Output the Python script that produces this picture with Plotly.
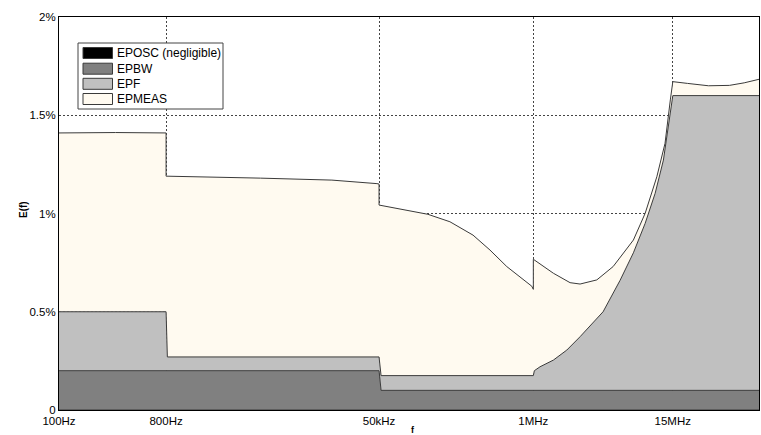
import plotly.graph_objects as go

# ---- data (values in %) ----
tick_freqs = [100, 800, 50000, 1e6, 15e6]
tick_labels = ["100Hz", "800Hz", "50kHz", "1MHz", "15MHz"]
y_tickvals = [0, 0.5, 1, 1.5, 2]
y_ticklabels = ["0", "0.5%", "1%", "1.5%", "2%"]

series_names = ["EPOSC (negligible)", "EPBW", "EPF", "EPMEAS"]
series_colors = ["#000000", "#808080", "#c0c0c0", "#fffaf0"]

# EPOSC level (negligible)
eposc_freq = [100, 8e7]
eposc_top = [0.0, 0.0]

# cumulative top of EPBW
epbw_freq = [100, 50000, 52000, 8e7]
epbw_top = [0.2, 0.2, 0.1, 0.1]

# cumulative top of EPF (EPBW + EPF)
epf_freq = [100, 800, 820, 50000, 52000, 1e6, 1.02e6, 1.139e6, 1.476e6, 1.915e6,
            2.478e6, 3.875e6, 5.39e6, 6.98e6, 8.77e6, 10.65e6, 12.5e6, 13.8e6,
            15e6, 8e7]
epf_top = [0.5, 0.5, 0.27, 0.27, 0.175, 0.175, 0.2, 0.22, 0.254, 0.305,
           0.373, 0.50, 0.66, 0.80, 0.95, 1.103, 1.272, 1.442,
           1.6, 1.6]

# cumulative top of EPMEAS (total)
epmeas_freq = [100, 300, 800, 800, 5000, 20000, 48000, 50000, 50000, 85500,
               129000, 198000, 310000, 431000, 597000, 970000, 1e6, 1e6,
               1.476e6, 2.04e6, 2.478e6, 3.43e6, 4.71e6, 6.98e6, 8.77e6,
               11e6, 12.9e6, 14.3e6, 15e6, 20e6, 30e6, 45e6, 60e6, 8e7]
epmeas_top = [1.41, 1.412, 1.41, 1.19, 1.18, 1.17, 1.152, 1.15, 1.043, 1.018,
              0.996, 0.958, 0.89, 0.814, 0.73, 0.63, 0.614, 0.767,
              0.696, 0.648, 0.641, 0.662, 0.73, 0.865, 1.001,
              1.187, 1.357, 1.578, 1.671, 1.662, 1.650, 1.652, 1.665, 1.683]

# ---- figure ----
W, H = 761, 435
L, R, T, B = 59, 759, 17, 410
FONT = "Liberation Sans, Arial, sans-serif"

fig = go.Figure()
levels = [(eposc_freq, eposc_top), (epbw_freq, epbw_top),
          (epf_freq, epf_top), (epmeas_freq, epmeas_top)]
for i, ((fx, fy), name, col) in enumerate(zip(levels, series_names, series_colors)):
    fig.add_trace(go.Scatter(
        x=fx, y=fy, name=name, mode="lines",
        line=dict(color="#3a3a3a", width=1),
        fill="tozeroy" if i == 0 else "tonexty",
        fillcolor=col, showlegend=False, hoverinfo="skip"))

fig.update_layout(
    width=W, height=H,
    margin=dict(l=L, r=W - R, t=T, b=H - B),
    paper_bgcolor="white", plot_bgcolor="white",
    font=dict(family=FONT, size=11, color="black"),
    showlegend=False,
)
fig.update_xaxes(
    type="log", range=[2, 7.903],
    tickvals=tick_freqs, ticktext=tick_labels,
    showgrid=True, gridcolor="#444444", griddash="2px,2px", gridwidth=1,
    showline=True, linecolor="black", linewidth=1, mirror=True,
    ticks="", zeroline=False, tickfont=dict(size=11.5),
)
fig.update_yaxes(
    range=[0, 2], tickvals=y_tickvals, ticktext=y_ticklabels,
    showgrid=True, gridcolor="#444444", griddash="2px,2px", gridwidth=1,
    showline=True, linecolor="black", linewidth=1, mirror=True,
    ticks="", zeroline=False, tickfont=dict(size=11.5),
)

def px(x):
    return (x - L) / (R - L)

def py(y):
    return (B - y) / (B - T)

# custom legend
shapes = [dict(type="rect", xref="paper", yref="paper",
               x0=px(78), x1=px(223), y0=py(109), y1=py(43),
               fillcolor="white", line=dict(color="#444444", width=1), layer="above")]
annotations = []
centers = [53, 68.7, 83.8, 99]
for name, col, c in zip(series_names, series_colors, centers):
    shapes.append(dict(type="rect", xref="paper", yref="paper",
                       x0=px(83), x1=px(112.5), y0=py(c + 5.5), y1=py(c - 5.5),
                       fillcolor=col, line=dict(color="#3a3a3a", width=1), layer="above"))
    annotations.append(dict(xref="paper", yref="paper", x=px(115), y=py(c),
                            text=name, showarrow=False, xanchor="left", yanchor="middle",
                            font=dict(size=12, color="black")))

annotations.append(dict(xref="paper", yref="paper", x=px(413), y=py(430), text="<b>f</b>",
                        showarrow=False, xanchor="center", yanchor="middle",
                        font=dict(size=9)))
annotations.append(dict(xref="paper", yref="paper", x=px(23), y=py(210), text="<b>E(f)</b>",
                        showarrow=False, xanchor="center", yanchor="middle", textangle=-90,
                        font=dict(size=10)))
fig.update_layout(shapes=shapes, annotations=annotations)

fig.write_html("out.html", config={"displayModeBar": False},
               post_script="document.body.style.margin='0';document.body.style.overflow='hidden';")
